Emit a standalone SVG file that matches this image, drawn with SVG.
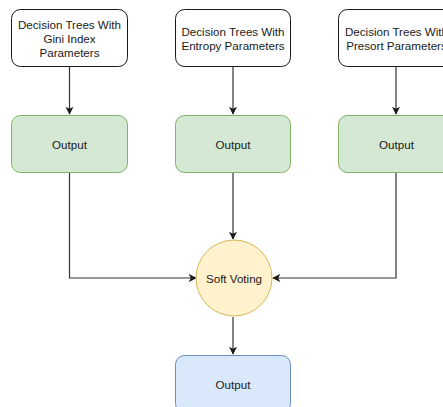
<svg xmlns="http://www.w3.org/2000/svg" width="443" height="407" viewBox="0 0 443 407">
<style>
.lbl{font-family:"Liberation Sans",Arial,sans-serif;font-size:11.6px;fill:#1a1a1a;text-anchor:middle;dominant-baseline:central}
.top{fill:#ffffff;stroke:#1a1a1a;stroke-width:1}
.grn{fill:#d5e8d4;stroke:#82b366;stroke-width:1}
.blu{fill:#dae8fc;stroke:#6c8ebf;stroke-width:1}
.ylw{fill:#fff2cc;stroke:#d6b656;stroke-width:1}
.edge{fill:none;stroke:#333333;stroke-width:1.2}
</style>
<defs>
<marker id="arr" viewBox="0 0 10 10" refX="9" refY="5" markerWidth="8" markerHeight="8" markerUnits="userSpaceOnUse" orient="auto">
<path d="M0,0 L10,5 L0,10 L2.5,5 Z" fill="#1a1a1a"/>
</marker>
</defs>
<rect width="443" height="407" fill="#ffffff"/>
<g id="connectors">
<path class="edge" d="M69.5,67 V114" marker-end="url(#arr)"/>
<path class="edge" d="M233,67 V114" marker-end="url(#arr)"/>
<path class="edge" d="M396,67 V114" marker-end="url(#arr)"/>
<path class="edge" d="M69.5,173 V278 H196" marker-end="url(#arr)"/>
<path class="edge" d="M233,173 V239" marker-end="url(#arr)"/>
<path class="edge" d="M396,173 V278 H273" marker-end="url(#arr)"/>
<path class="edge" d="M233,317 V354" marker-end="url(#arr)"/>
</g>
<g id="tree-gini">
<rect class="top" x="11.5" y="9.5" width="116" height="57" rx="9"/>
<text class="lbl" x="69.5" y="24.5">Decision Trees With</text>
<text class="lbl" x="69.5" y="38.5">Gini Index</text>
<text class="lbl" x="69.5" y="52.5">Parameters</text>
</g>
<g id="tree-entropy">
<rect class="top" x="175.5" y="9.5" width="115" height="57" rx="9"/>
<text class="lbl" x="233" y="31.5">Decision Trees With</text>
<text class="lbl" x="233" y="45">Entropy Parameters</text>
</g>
<g id="tree-presort">
<rect class="top" x="338.5" y="9.5" width="116" height="57" rx="9"/>
<text class="lbl" x="396.5" y="31.5">Decision Trees With</text>
<text class="lbl" x="396.5" y="45">Presort Parameters</text>
</g>
<g id="output-1">
<rect class="grn" x="11.5" y="115.5" width="116" height="57" rx="9"/>
<text class="lbl" x="69.5" y="144">Output</text>
</g>
<g id="output-2">
<rect class="grn" x="175.5" y="115.5" width="115" height="57" rx="9"/>
<text class="lbl" x="233" y="144">Output</text>
</g>
<g id="output-3">
<rect class="grn" x="338.5" y="115.5" width="116" height="57" rx="9"/>
<text class="lbl" x="396.5" y="144">Output</text>
</g>
<g id="soft-voting">
<circle class="ylw" cx="234" cy="278" r="38"/>
<text class="lbl" x="234" y="278">Soft Voting</text>
</g>
<g id="output-final">
<rect class="blu" x="175.5" y="355.5" width="115" height="57" rx="9"/>
<text class="lbl" x="233" y="384">Output</text>
</g>
</svg>
